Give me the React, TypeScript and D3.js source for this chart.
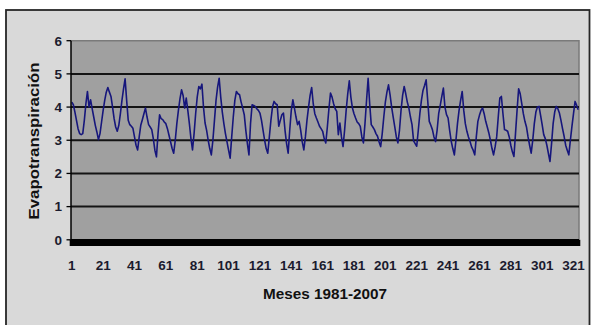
import React from "react";
import * as d3 from "d3";

// Evapotranspiración mensual, enero 1981 – diciembre 2007 (324 meses)
const evapotranspiracion: number[] = [
  4.15, 4.07, 3.85, 3.6, 3.35, 3.2, 3.17, 3.2, 3.6, 4.1, 4.47, 4.0,
  4.22, 3.95, 3.7, 3.45, 3.25, 3.02, 3.2, 3.55, 3.9, 4.2, 4.45, 4.59,
  4.45, 4.32, 4.0, 3.65, 3.4, 3.27, 3.45, 3.8, 4.2, 4.55, 4.85, 4.2,
  3.6, 3.47, 3.42, 3.36, 3.1, 2.85, 2.71, 3.1, 3.45, 3.62, 3.8, 3.97,
  3.7, 3.47, 3.4, 3.32, 3.05, 2.7, 2.5, 3.2, 3.77, 3.65, 3.62, 3.55,
  3.5, 3.35, 3.15, 2.95, 2.75, 2.61, 3.0, 3.5, 3.9, 4.25, 4.52, 4.35,
  3.97, 4.27, 3.9, 3.5, 3.05, 2.71, 3.2, 3.8, 4.3, 4.62, 4.55, 4.69,
  4.0, 3.52, 3.3, 3.0, 2.75, 2.56, 3.0, 3.6, 4.2, 4.6, 4.87, 4.3,
  3.85, 3.5, 3.2, 2.95, 2.7, 2.46, 3.1, 3.7, 4.2, 4.47, 4.4, 4.37,
  4.15, 3.97, 3.77, 3.3, 2.9, 2.56, 3.5, 4.07, 4.05, 4.02, 3.95, 3.9,
  3.82, 3.6, 3.3, 3.0, 2.75, 2.61, 3.1, 3.6, 4.0, 4.17, 4.1, 4.07,
  3.42, 3.6, 3.77, 3.82, 3.3, 2.9, 2.61, 3.3, 3.9, 4.22, 3.97, 3.7,
  3.47, 3.57, 3.3, 2.95, 2.71, 3.1, 3.6, 4.0, 4.35, 4.59, 4.1, 3.8,
  3.67, 3.55, 3.42, 3.35, 3.27, 3.05, 2.92, 3.4, 3.95, 4.42, 4.3, 4.1,
  3.95, 3.87, 3.17, 3.52, 3.1, 2.81, 3.3, 3.9, 4.4, 4.79, 4.3, 3.97,
  3.8, 3.67, 3.55, 3.5, 3.42, 3.1, 2.92, 3.5, 4.2, 4.87, 4.1, 3.47,
  3.4, 3.32, 3.2, 3.12, 2.95, 2.81, 3.2, 3.7, 4.15, 4.45, 4.67, 4.37,
  4.0, 3.7, 3.4, 3.1, 2.92, 3.3, 3.9, 4.35, 4.62, 4.4, 4.15, 3.97,
  3.7, 3.47, 2.98, 2.9, 2.82, 3.3, 3.8, 4.2, 4.5, 4.65, 4.82, 4.2,
  3.57, 3.45, 3.32, 3.1, 2.96, 3.3, 3.8, 4.05, 4.32, 4.57, 4.0, 3.77,
  3.67, 3.3, 2.97, 2.75, 2.56, 3.0, 3.5, 3.9, 4.2, 4.47, 3.9, 3.5,
  3.27, 3.1, 2.96, 2.8, 2.7, 2.56, 3.1, 3.57, 3.75, 3.9, 3.97, 3.8,
  3.57, 3.4, 3.22, 3.0, 2.75, 2.56, 2.8, 3.1, 3.7, 4.27, 4.32, 3.8,
  3.32, 3.3, 3.27, 3.1, 2.85, 2.65, 2.51, 3.2, 3.9, 4.55, 4.4, 4.1,
  3.8, 3.57, 3.4, 3.1, 2.85, 2.61, 3.0, 3.5, 3.85, 4.0, 4.02, 3.75,
  3.47, 3.17, 3.05, 2.85, 2.6, 2.36, 2.9, 3.5, 3.85, 4.02, 3.95, 3.82,
  3.6, 3.35, 3.12, 2.85, 2.7, 2.56, 3.0, 3.42, 3.8, 4.17, 4.05, 3.92,
];

const meses: number[] = evapotranspiracion.map((_, i) => i + 1);
const etiquetasX: number[] = [1, 21, 41, 61, 81, 101, 121, 141, 161, 181, 201, 221, 241, 261, 281, 301, 321];
const ticksY: number[] = [0, 1, 2, 3, 4, 5, 6];

const W = 595;
const H = 325;
const left = 71;
const right = 579;
const top = 40.7;
const bottom = 239.8;

const font = "'Liberation Sans', Arial, sans-serif";

export default function App() {
  const n = meses.length;
  const x = d3.scaleLinear().domain([0.5, n + 0.5]).range([left, right]);
  const y = d3.scaleLinear().domain([0, 6]).range([bottom, top]);

  const line = d3
    .line<number>()
    .x((_, i) => x(meses[i]))
    .y((d) => y(d))
    .curve(d3.curveLinear);

  // month boundaries on the category axis
  const boundaries = d3.range(0, n + 1).map((k) => x(k + 0.5));

  return (
    <svg
      width={W}
      height={H}
      style={{ position: "absolute", left: 0, top: 0, display: "block" }}
    >
      <rect x={0} y={0} width={W} height={H} fill="#ffffff" />
      {/* chart frame */}
      <rect x={6} y={10} width={583.5} height={330} fill="#d9d9d9" stroke="#262626" strokeWidth={1.8} />

      {/* plot area */}
      <rect x={left} y={top} width={right - left} height={bottom - top} fill="#a0a0a0" />
      <path
        d={`M${left},${top}H${right}V${bottom}`}
        fill="none"
        stroke="#7a7a7a"
        strokeWidth={1.5}
      />

      {/* horizontal gridlines */}
      {ticksY
        .filter((t) => t > 0 && t < 6)
        .map((t) => (
          <line key={`g${t}`} x1={left} x2={right} y1={y(t)} y2={y(t)} stroke="#141414" strokeWidth={2} />
        ))}

      {/* series */}
      <path
        d={line(evapotranspiracion) || ""}
        fill="none"
        stroke="#16167c"
        strokeWidth={1.6}
        strokeLinejoin="round"
      />

      {/* y axis */}
      <line x1={left} x2={left} y1={top} y2={bottom} stroke="#000" strokeWidth={1.5} />
      {ticksY.map((t) => (
        <g key={`y${t}`}>
          <line x1={left - 4.5} x2={left} y1={y(t)} y2={y(t)} stroke="#000" strokeWidth={1.3} />
          <text
            x={left - 9}
            y={y(t)}
            dy="0.36em"
            textAnchor="end"
            fontFamily={font}
            fontWeight="bold"
            fontSize={13.5}
            fill="#1b1b2e"
          >
            {t}
          </text>
        </g>
      ))}

      {/* category axis: one tick per month, dense enough to merge into a band */}
      <line x1={left} x2={right} y1={bottom} y2={bottom} stroke="#000" strokeWidth={1.5} />
      {boundaries.map((bx, k) => (
        <line key={`t${k}`} x1={bx} x2={bx} y1={bottom} y2={bottom + 6.2} stroke="#000" strokeWidth={2.6} />
      ))}
      {etiquetasX.map((m) => (
        <text
          key={`x${m}`}
          x={x(m)}
          y={269.5}
          textAnchor="middle"
          fontFamily={font}
          fontWeight="bold"
          fontSize={13.5}
          fill="#1b1b2e"
        >
          {m}
        </text>
      ))}

      {/* axis titles */}
      <text
        x={325}
        y={298.5}
        textAnchor="middle"
        fontFamily={font}
        fontWeight="bold"
        fontSize={15}
        fill="#111"
        textLength={124}
        lengthAdjust="spacingAndGlyphs"
      >
        Meses 1981-2007
      </text>
      <text
        transform={`translate(39,141) rotate(-90)`}
        textAnchor="middle"
        fontFamily={font}
        fontWeight="bold"
        fontSize={15}
        fill="#111"
        textLength={157}
        lengthAdjust="spacingAndGlyphs"
      >
        Evapotranspiración
      </text>
    </svg>
  );
}
